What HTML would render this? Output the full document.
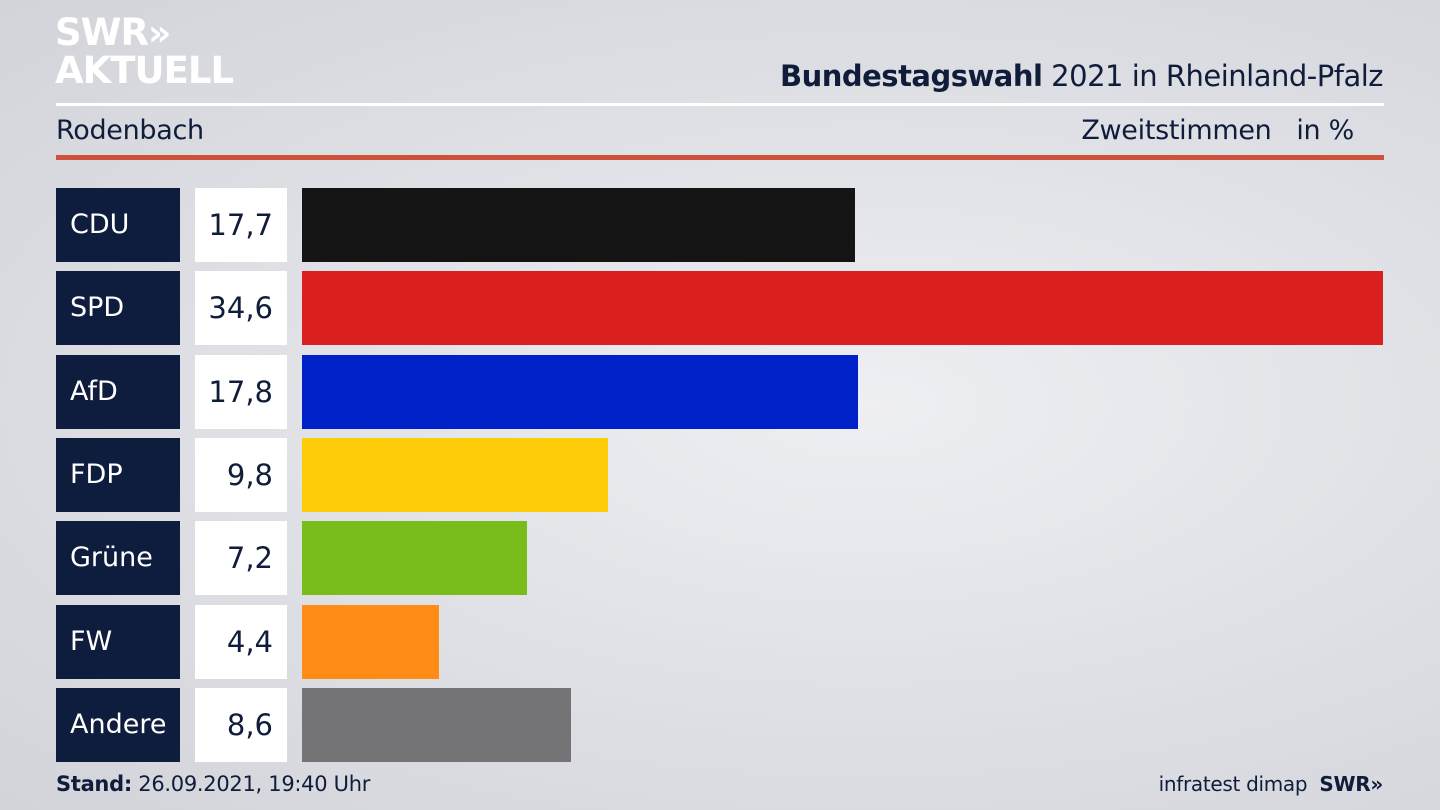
<!DOCTYPE html>
<html><head><meta charset="utf-8">
<style>
body{margin:0;width:1440px;height:810px;overflow:hidden;font-family:"DejaVu Sans","Liberation Sans",sans-serif;background:radial-gradient(ellipse at 60% 50%,#eeeff3 0%,#dcdee3 60%,#d2d4da 100%);position:relative;color:#0f1d3a}
.abs{position:absolute}
</style></head><body>
<div class="abs" style="left:55px;top:14px;color:#fff;font-weight:bold;font-size:37px;line-height:37px;letter-spacing:-1px">SWR<span style="font-size:36px">»</span><br>AKTUELL</div>
<div class="abs" style="right:57px;top:59px;font-size:29px;letter-spacing:-0.5px"><b>Bundestagswahl</b> 2021 in Rheinland-Pfalz</div>
<div class="abs" style="left:56px;top:103px;width:1328px;height:3px;background:#fff"></div>
<div class="abs" style="left:56px;top:115px;font-size:27px;letter-spacing:-0.3px">Rodenbach</div>
<div class="abs" style="right:86px;top:115px;font-size:27px;letter-spacing:-0.3px">Zweitstimmen &nbsp;&nbsp;in %</div>
<div class="abs" style="left:56px;top:155px;width:1328px;height:5px;background:#d0503c"></div>
<div id="chart"></div>
<div class="abs" style="left:56px;top:772px;font-size:21px;letter-spacing:-0.3px"><b>Stand:</b> 26.09.2021, 19:40 Uhr</div>
<div class="abs" style="right:57px;top:772px;font-size:20px;letter-spacing:-0.3px">infratest dimap &nbsp;<b>SWR»</b></div>
<script>
const parties=["CDU","SPD","AfD","FDP","Grüne","FW","Andere"];
const values=[17.7,34.6,17.8,9.8,7.2,4.4,8.6];
const colors=["#141414","#d91f1f","#0021c8","#ffcc0a","#79bd1c","#ff8c17","#747477"];
const x0=302, scale=(1383-302)/34.6, top0=188, step=83.3, h=74;
const c=document.getElementById('chart');
parties.forEach((p,i)=>{
  const y=top0+i*step;
  const lab=document.createElement('div');
  
  
  lab.className='abs';
  lab.style.cssText=`left:56px;top:${y}px;width:110px;height:${h}px;background:#0e1d3d;color:#fff;font-size:27px;line-height:${h}px;padding-left:14px`;
  lab.textContent=p;c.appendChild(lab);
  const v=document.createElement('div');
  
  
  v.className='abs';
  v.style.cssText=`left:195px;top:${y}px;width:78px;height:${h}px;background:#fff;font-size:29px;line-height:${h}px;text-align:right;padding-right:14px`;
  v.textContent=values[i].toFixed(1).replace('.',',');c.appendChild(v);
  const b=document.createElement('div');
  
  
  b.className='abs';
  b.style.cssText=`left:${x0}px;top:${y}px;width:${values[i]*scale}px;height:${h}px;background:${colors[i]}`;
  c.appendChild(b);
});
</script>
</body></html>
